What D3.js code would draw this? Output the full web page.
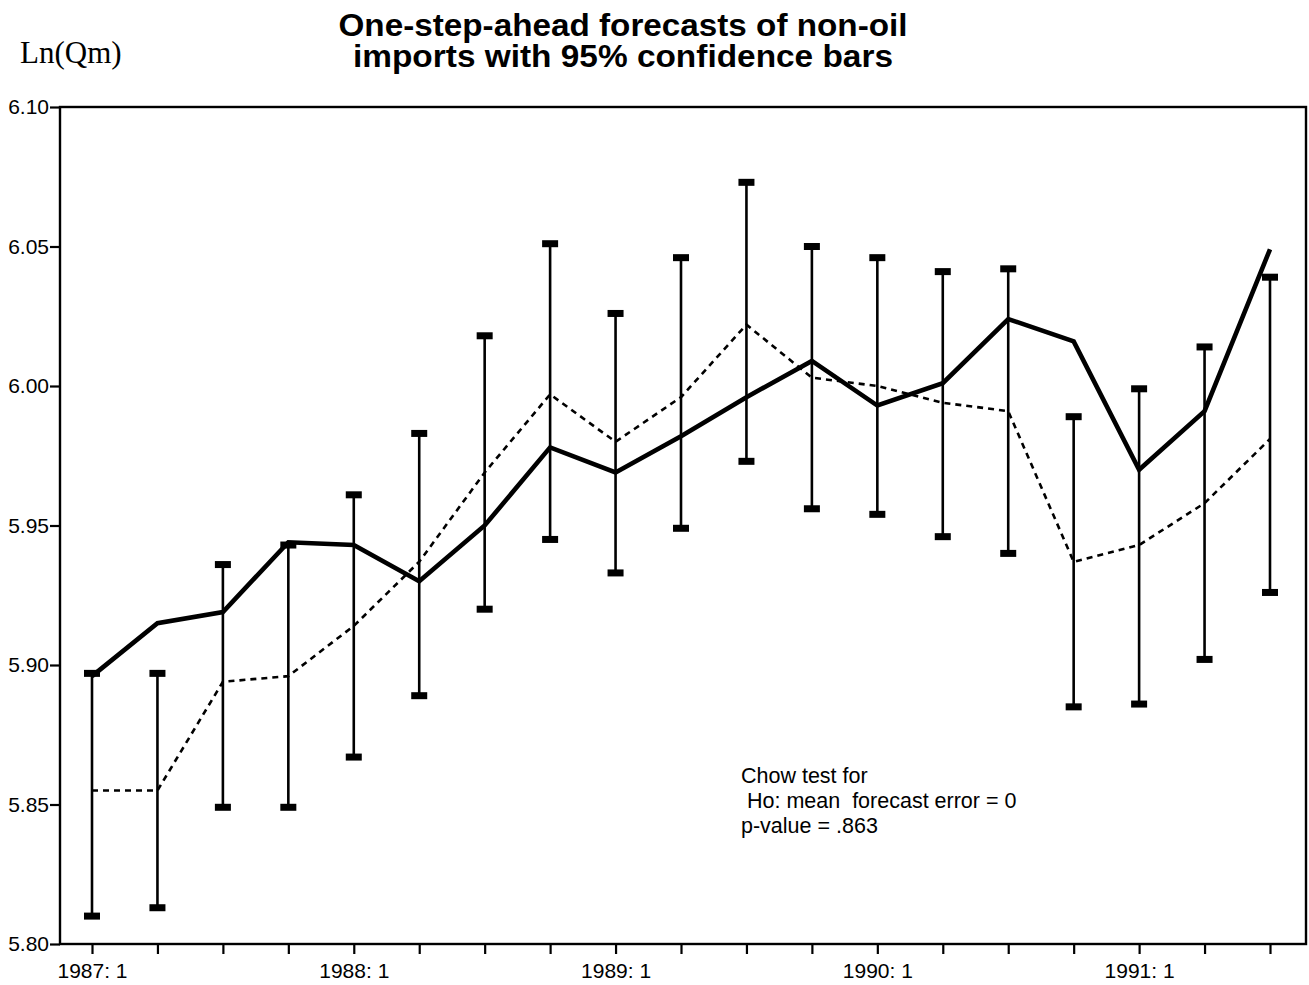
<!DOCTYPE html>
<html><head><meta charset="utf-8">
<script src="https://cdn.jsdelivr.net/npm/d3@7"></script>
<style>body{margin:0;background:#fff}</style>
</head><body>
<svg id="c" width="1309" height="985"></svg>
<script>
const quarters = ["1987:1","1987:2","1987:3","1987:4","1988:1","1988:2","1988:3","1988:4",
  "1989:1","1989:2","1989:3","1989:4","1990:1","1990:2","1990:3","1990:4","1991:1","1991:2","1991:3"];
const actual   = [5.896,5.915,5.919,5.944,5.943,5.930,5.950,5.978,5.969,5.982,5.996,6.009,5.993,6.001,6.024,6.016,5.970,5.991,6.049];
const forecast = [5.855,5.855,5.894,5.896,5.914,5.937,5.969,5.997,5.980,5.996,6.022,6.003,6.000,5.994,5.991,5.937,5.943,5.958,5.981];
const upper    = [5.897,5.897,5.936,5.943,5.961,5.983,6.018,6.051,6.026,6.046,6.073,6.050,6.046,6.041,6.042,5.989,5.999,6.014,6.039];
const lower    = [5.810,5.813,5.849,5.849,5.867,5.889,5.920,5.945,5.933,5.949,5.973,5.956,5.954,5.946,5.940,5.885,5.886,5.902,5.926];
const yTicks   = [5.80,5.85,5.90,5.95,6.00,6.05,6.10];
const xLabelMap = {"1987:1":"1987: 1","1988:1":"1988: 1","1989:1":"1989: 1","1990:1":"1990: 1","1991:1":"1991: 1"};
const titleLines = ["One-step-ahead forecasts of non-oil","imports with 95% confidence bars"];
const yLabel = "Ln(Qm)";
const noteLines = ["Chow test for"," Ho: mean  forecast error = 0","p-value = .863"];

const svg = d3.select("#c");
const L = 60, R = 1306, T = 107, B = 944;
const x = d3.scalePoint().domain(quarters).range([92, 1270]);
const y = d3.scaleLinear().domain([5.80, 6.10]).range([B, T]);
const sans = "'Liberation Sans', Arial, Helvetica, sans-serif";

// title (one text element, two lines)
const title = svg.append("text").attr("text-anchor","middle").attr("font-family",sans)
  .attr("font-weight","bold").attr("font-size",31).attr("fill","#000");
title.selectAll("tspan").data(titleLines).join("tspan")
  .attr("x", 623).attr("y", (d,i) => 36 + i*31)
  .attr("textLength", (d,i) => i === 0 ? 569 : 540).attr("lengthAdjust","spacingAndGlyphs")
  .text(d => d);

svg.append("text").attr("x",20).attr("y",63)
  .attr("font-family","'Liberation Serif', 'Times New Roman', serif").attr("font-size",31)
  .attr("fill","#000").text(yLabel);

// axes
const ya = svg.append("g").attr("transform",`translate(${L},0)`)
  .call(d3.axisLeft(y).tickValues(yTicks).tickFormat(d3.format(".2f")).tickSize(10).tickSizeOuter(0).tickPadding(1));
const xa = svg.append("g").attr("transform",`translate(0,${B})`)
  .call(d3.axisBottom(x).tickSize(10).tickSizeOuter(0).tickPadding(9).tickFormat(d => xLabelMap[d] || ""));
[ya, xa].forEach(g => {
  g.select(".domain").remove();
  g.selectAll(".tick line").attr("stroke","#000").attr("stroke-width",2.2);
  g.selectAll(".tick text").attr("fill","#000").attr("font-family",sans);
});
ya.selectAll(".tick text").attr("font-size",21);
xa.selectAll(".tick text").attr("font-size",21);

// frame
svg.append("rect").attr("x",L).attr("y",T).attr("width",R-L).attr("height",B-T)
  .attr("fill","none").attr("stroke","#000").attr("stroke-width",2.4);

// error bars
const bars = svg.append("g");
bars.selectAll("line").data(quarters).join("line")
  .attr("x1", d => x(d)).attr("x2", d => x(d))
  .attr("y1", (d,i) => y(upper[i])).attr("y2", (d,i) => y(lower[i]))
  .attr("stroke","#000").attr("stroke-width",2.6);
const capW = 16, capH = 7;
bars.selectAll("rect.up").data(quarters).join("rect").attr("class","up")
  .attr("x", d => x(d)-capW/2).attr("y", (d,i) => y(upper[i])-capH/2)
  .attr("width",capW).attr("height",capH).attr("fill","#000");
bars.selectAll("rect.lo").data(quarters).join("rect").attr("class","lo")
  .attr("x", d => x(d)-capW/2).attr("y", (d,i) => y(lower[i])-capH/2)
  .attr("width",capW).attr("height",capH).attr("fill","#000");

// forecast dashed
const line = d3.line().x(d => x(d.q)).y(d => y(d.v));
svg.append("path").datum(quarters.map((q,i)=>({q, v: forecast[i]})))
  .attr("d", line).attr("fill","none").attr("stroke","#000")
  .attr("stroke-width",2.6).attr("stroke-dasharray","6,5");

// actual solid
svg.append("path").datum(quarters.map((q,i)=>({q, v: actual[i]})))
  .attr("d", line).attr("fill","none").attr("stroke","#000")
  .attr("stroke-width",4.6).attr("stroke-linejoin","miter");

// note
svg.append("g").selectAll("text").data(noteLines).join("text")
  .attr("x",741).attr("y",(d,i)=>783 + i*25)
  .attr("font-family",sans).attr("font-size",21.5).attr("fill","#000")
  .attr("xml:space","preserve").style("white-space","pre").text(d => d);
</script>
</body></html>
